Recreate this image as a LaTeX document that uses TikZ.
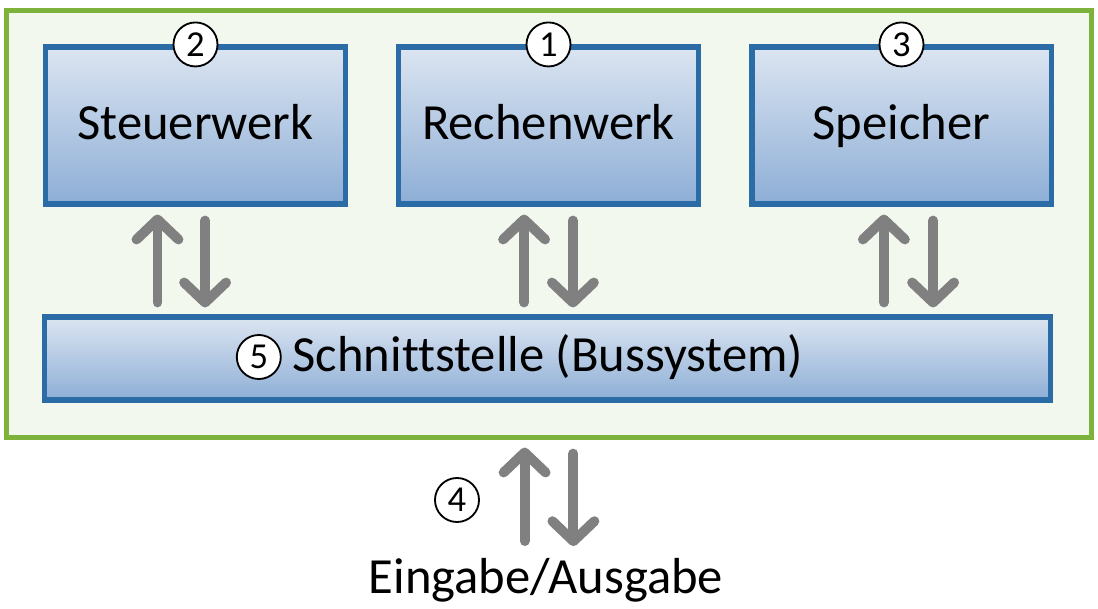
\documentclass[tikz,border=0pt]{standalone}
\usepackage{fontspec}
\setmainfont{Carlito}[Ligatures=NoCommon]
\usepackage{tikz}
\usetikzlibrary{positioning,arrows.meta}

\definecolor{rahmengruen}{HTML}{7DB33B}
\definecolor{rahmenfill}{HTML}{F3F8EF}
\definecolor{werkblau}{HTML}{2C6CA6}
\definecolor{werkhell}{HTML}{DCE5F1}
\definecolor{werkdunkel}{HTML}{8DAED6}
\definecolor{pfeilgrau}{HTML}{808080}

\tikzset{
  rahmen/.style={draw=rahmengruen, fill=rahmenfill, line width=3.6pt,
    minimum width=27.1cm, minimum height=10.65cm},
  schrift/.style={font=\fontsize{36}{42}\selectfont, text height=27pt, text depth=6.4pt},
  werk/.style={draw=werkblau, line width=3.6pt, top color=werkhell, bottom color=werkdunkel,
    minimum width=7.475cm, minimum height=3.925cm, schrift},
  nummer/.style={circle, draw=black, fill=white, line width=1.3pt, minimum size=1.1cm,
    inner sep=0pt, font=\fontsize{26}{30}\selectfont},
  fluss/.style={draw=pfeilgrau, line width=7pt, line cap=round,
    -{Straight Barb[length=0.5cm, width=1.05cm, round]}},
  hoch/.style={fluss, shorten <=0.3cm, shorten >=0.2cm},
  runter/.style={fluss, shorten <=0.35cm, shorten >=0.175cm}
}

\begin{document}
\begin{tikzpicture}[x=0.025cm,y=-0.025cm]
\useasboundingbox (0,0) rectangle (1098,609);

\node[rahmen] (rahmen) at (549,224) {};

	\node[werk] (steuer) at (195.5,125.5) {Steuerwerk};
	\node[werk] (rechen) at (548.5,125.5) {Rechenwerk};
	\node[werk] (speicher) at (901.5,125.5) {Speicher};
	\node[werk, minimum width=25.125cm, minimum height=2.075cm] (bus) at (547.5,358.5) {};
	\node[schrift] (bustext) at (548,357) {Schnittstelle (Bussystem)};

	\node[nummer] (n1) at (rechen.north) {1};
	\node[nummer] (n2) at (steuer.north) {2};
	\node[nummer] (n3) at (speicher.north) {3};
	\node[nummer] (n4) at (457,500) {4};
	\node[nummer, left=0.15cm of bustext] (n5) {5};

	\node[font=\fontsize{36}{42}\selectfont] (io) at (546,580) {Eingabe/Ausgabe};

	\draw[hoch] ([xshift=-0.95cm]steuer.south |- bus.north) -- ([xshift=-0.95cm]steuer.south);
	\draw[runter] ([xshift=0.24cm]steuer.south) -- ([xshift=0.24cm]steuer.south |- bus.north);
	\draw[hoch] ([xshift=-0.61cm]rechen.south |- bus.north) -- ([xshift=-0.61cm]rechen.south);
	\draw[runter] ([xshift=0.61cm]rechen.south) -- ([xshift=0.61cm]rechen.south |- bus.north);
	\draw[hoch] ([xshift=-0.44cm]speicher.south |- bus.north) -- ([xshift=-0.44cm]speicher.south);
	\draw[runter] ([xshift=0.79cm]speicher.south) -- ([xshift=0.79cm]speicher.south |- bus.north);

	\draw[hoch] ([xshift=-0.61cm]rahmen.south |- io.north) -- ([xshift=-0.61cm]rahmen.south);
	\draw[runter] ([xshift=0.61cm]rahmen.south) -- ([xshift=0.61cm]rahmen.south |- io.north);
\end{tikzpicture}
\end{document}
